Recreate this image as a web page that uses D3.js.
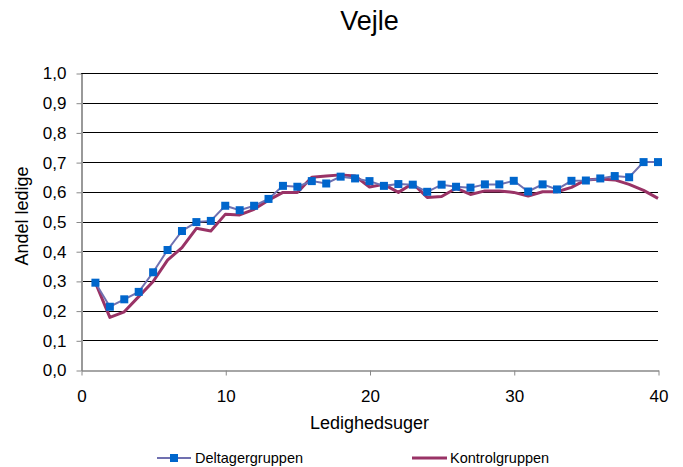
<!DOCTYPE html>
<html>
<head>
<meta charset="utf-8">
<script src="https://cdn.jsdelivr.net/npm/d3@7"></script>
<style>
body{margin:0;background:#fff;}
text{font-family:"Liberation Sans",Arial,sans-serif;fill:#000;}
</style>
</head>
<body>
<div id="chart"></div>
<script>
// uger 1..40
var weeks = d3.range(1, 41);

var deltager = [0.294,0.213,0.238,0.263,0.329,0.404,0.468,0.498,0.502,0.553,
	0.538,0.553,0.576,0.620,0.617,0.636,0.628,0.651,0.645,0.636,
	0.620,0.626,0.624,0.600,0.624,0.617,0.614,0.625,0.625,0.637,
	0.601,0.625,0.608,0.637,0.638,0.645,0.653,0.649,0.700,0.700];

var kontrol = [0.294,0.177,0.196,0.247,0.298,0.370,0.412,0.477,0.468,0.524,
	0.522,0.541,0.572,0.598,0.598,0.649,0.653,0.657,0.653,0.616,
	0.625,0.598,0.628,0.581,0.584,0.612,0.591,0.603,0.603,0.598,
	0.586,0.600,0.600,0.615,0.640,0.643,0.640,0.625,0.605,0.578];

var yTicks = [0,0.1,0.2,0.3,0.4,0.5,0.6,0.7,0.8,0.9,1.0];
var xTicks = [0,10,20,30,40];

var W = 683, H = 467;
var mLeft = 81, mRight = 658, mTop = 73, mBottom = 370;

var x = d3.scaleLinear().domain([0,40]).range([mLeft,mRight]);
var y = d3.scaleLinear().domain([0,1]).range([mBottom,mTop]);

var svg = d3.select("#chart").append("svg")
	.attr("width",W).attr("height",H);

// gridlines
svg.append("g").selectAll("line")
	.data(yTicks.slice(1))
	.enter().append("line")
	.attr("x1",mLeft).attr("x2",mRight)
	.attr("y1",function(d){return Math.round(y(d))+0.5;})
	.attr("y2",function(d){return Math.round(y(d))+0.5;})
	.attr("stroke","#000").attr("stroke-width",1);

var fmt = function(d){return d3.format(".1f")(d).replace(".",",");};

var yAxis = svg.append("g")
	.attr("transform","translate(" + (mLeft+0.5) + ",0.5)")
	.call(d3.axisLeft(y).tickValues(yTicks).tickFormat(fmt).tickSizeInner(5).tickSizeOuter(0).tickPadding(10));
yAxis.select(".domain").attr("stroke","#999").attr("stroke-width",2);
yAxis.selectAll(".tick line").attr("stroke","#888");
yAxis.selectAll("text").style("font-size","17px").attr("fill","#000");

var xAxis = svg.append("g")
	.attr("transform","translate(0.5," + (mBottom+0.5) + ")")
	.call(d3.axisBottom(x).tickValues(xTicks).tickSizeInner(5).tickSizeOuter(0).tickPadding(14));
xAxis.select(".domain").attr("stroke","#888").attr("stroke-width",1.5);
xAxis.selectAll(".tick line").attr("stroke","#888");
xAxis.selectAll("text").style("font-size","17px").attr("fill","#000");

// titles
svg.append("text")
	.attr("x",(mLeft+mRight)/2).attr("y",30)
	.attr("text-anchor","middle")
	.style("font-size","27px")
	.text("Vejle");

svg.append("text")
	.attr("x",(mLeft+mRight)/2).attr("y",429)
	.attr("text-anchor","middle")
	.style("font-size","18px")
	.text("Ledighedsuger");

svg.append("text")
	.attr("text-anchor","middle")
	.attr("transform","translate(28,216)rotate(-90)")
	.style("font-size","18px")
	.text("Andel ledige");

var line = d3.line()
	.x(function(d,i){return x(weeks[i]);})
	.y(function(d){return y(d);});

svg.append("path")
	.datum(kontrol)
	.attr("d",line)
	.attr("fill","none")
	.attr("stroke","#993366")
	.attr("stroke-width",3)
	.attr("stroke-linejoin","round");

svg.append("path")
	.datum(deltager)
	.attr("d",line)
	.attr("fill","none")
	.attr("stroke","#7070B0")
	.attr("stroke-width",2);

svg.selectAll(".pt")
	.data(deltager)
	.enter().append("rect")
	.attr("class","pt")
	.attr("x",function(d,i){return x(weeks[i])-4;})
	.attr("y",function(d){return y(d)-4;})
	.attr("width",8).attr("height",8)
	.attr("fill","#0066CC");

// legend
var lg = svg.append("g");
lg.append("line").attr("x1",157).attr("x2",191).attr("y1",458).attr("y2",458)
	.attr("stroke","#7070B0").attr("stroke-width",2);
lg.append("rect").attr("x",170).attr("y",454).attr("width",8).attr("height",8).attr("fill","#0066CC");
lg.append("text").attr("x",195).attr("y",463).style("font-size","14.5px").text("Deltagergruppen");

lg.append("line").attr("x1",412).attr("x2",447).attr("y1",458).attr("y2",458)
	.attr("stroke","#993366").attr("stroke-width",3);
lg.append("text").attr("x",450).attr("y",463).style("font-size","14.5px").text("Kontrolgruppen");
</script>
</body>
</html>
